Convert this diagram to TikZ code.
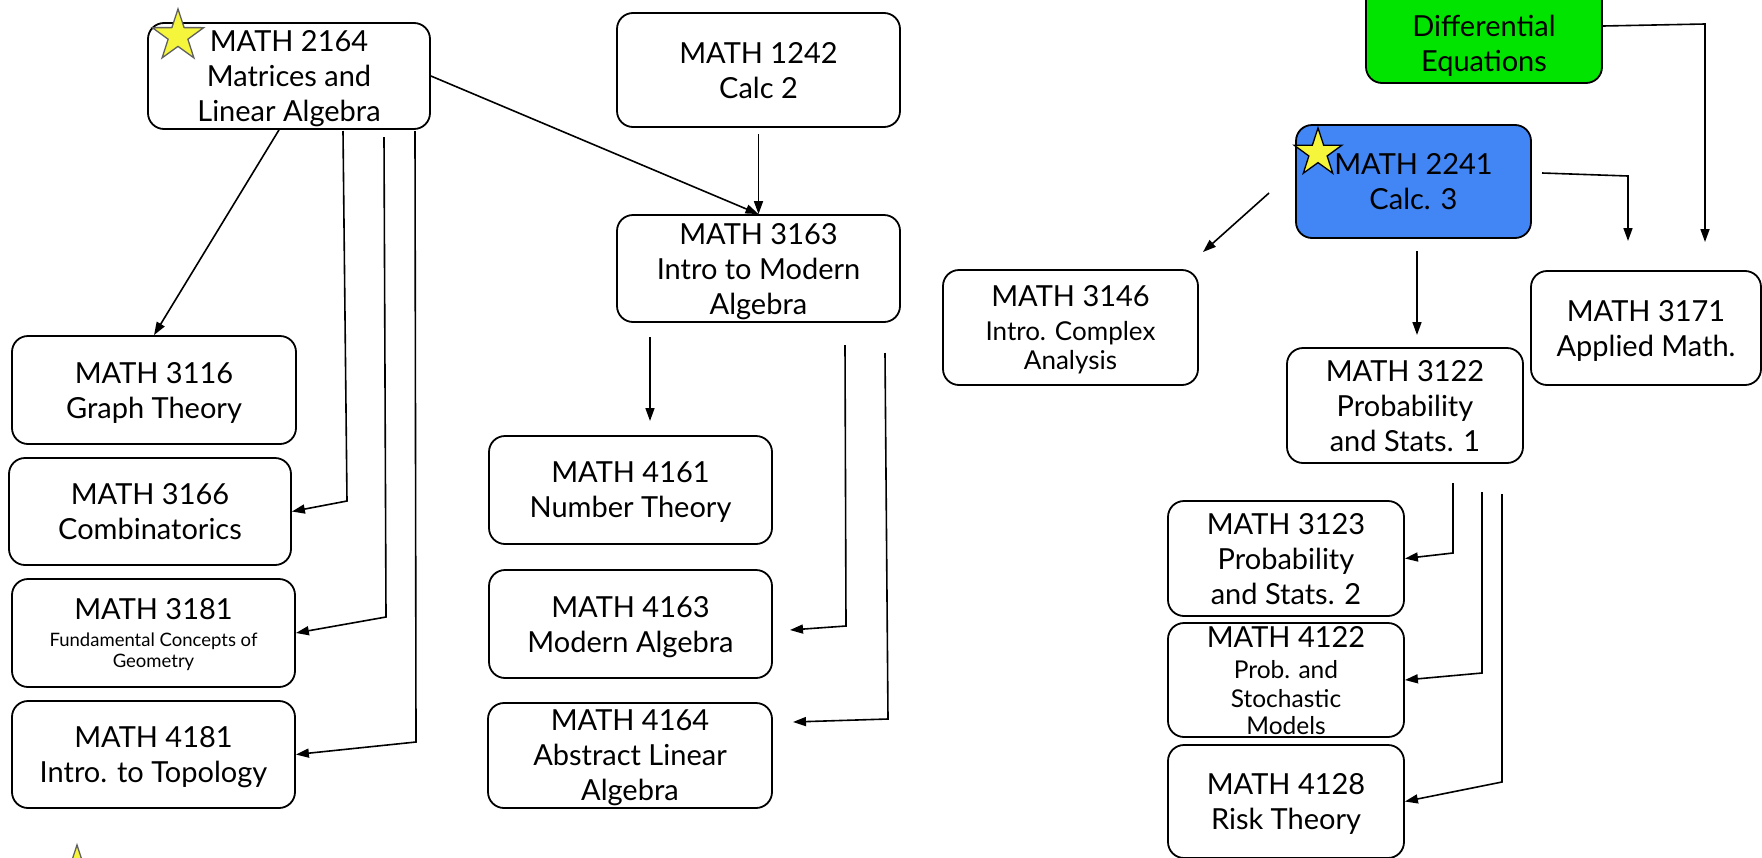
\documentclass[tikz,border=0pt]{standalone}
\usepackage{fontspec}
\setmainfont{Lato}
\usetikzlibrary{shapes.geometric,arrows.meta}
\definecolor{calcblue}{RGB}{66,133,244}
\definecolor{degreen}{RGB}{0,228,0}
\definecolor{staryellow}{RGB}{245,245,60}
\newcommand\cfmain{\fontsize{29}{35}\selectfont}
\newcommand\cfsmallA{\fontsize{26}{29}\selectfont}
\newcommand\cfsmallB{\fontsize{18.5}{21}\selectfont}
\newcommand\cfsmallC{\fontsize{24.5}{28}\selectfont}
\begin{document}
\begin{tikzpicture}[x=1pt,y=-1pt,
  box/.style={draw=black, line width=1.8pt, rounded corners=16pt, align=center, inner sep=0pt, font=\cfmain, text=black, text depth=0pt},
  arr/.style={line width=1.6pt, -{Triangle[length=13pt,width=9pt]}},
  starry/.style={star, star points=5, star point ratio=2.6, inner sep=0pt, fill=staryellow, line width=1.3pt}]
\useasboundingbox (0,0) rectangle (1762,857);
\clip (0,0) rectangle (1762,857);
\fill[white] (0,0) rectangle (1762,857);

% left column
\node[box, minimum width=282pt, minimum height=106pt] (b2164) at (289,76) {MATH 2164\\Matrices and\\Linear Algebra};
\node[box, minimum width=284pt, minimum height=108pt] (b3116) at (154,390) {MATH 3116\\Graph Theory};
\node[box, minimum width=282pt, minimum height=107pt] (b3166) at (150,511.5) {MATH 3166\\Combinatorics};
\node[box, minimum width=283pt, minimum height=108pt] (b3181) at (153.5,633) {MATH 3181\\[-8pt]\cfsmallB Fundamental Concepts of\\[-14pt]\cfsmallB Geometry};
\node[box, minimum width=283pt, minimum height=107pt] (b4181) at (153.5,754.5) {MATH 4181\\Intro. to Topology};

% middle column
\node[box, minimum width=283pt, minimum height=114pt] (b1242) at (758.5,70) {MATH 1242\\Calc 2};
\node[box, minimum width=283pt, minimum height=107pt] (b3163) at (758.5,268.5) {MATH 3163\\Intro to Modern\\Algebra};
\node[box, minimum width=283pt, minimum height=108pt] (b4161) at (630.5,490) {MATH 4161\\Number Theory};
\node[box, minimum width=283pt, minimum height=108pt] (b4163) at (630.5,624) {MATH 4163\\Modern Algebra};
\node[box, minimum width=284pt, minimum height=105pt] (b4164) at (630,755.5) {MATH 4164\\Abstract Linear\\Algebra};

% right part
\node[box, minimum width=255pt, minimum height=115pt] (b3146) at (1070.5,327.5) {MATH 3146\\[-1pt]\cfsmallA Intro. Complex\\[-6pt]\cfsmallA Analysis};
\node[box, fill=degreen, minimum width=236pt, minimum height=114pt] (bde) at (1484,26) {\vphantom{MATH 2164}\\Differential\\Equations};
\node[box, fill=calcblue, minimum width=235pt, minimum height=113pt] (b2241) at (1413.5,181.5) {MATH 2241\\Calc. 3};
\node[box, minimum width=230pt, minimum height=114pt] (b3171) at (1646,328) {MATH 3171\\Applied Math.};
\node[box, minimum width=236pt, minimum height=115pt] (b3122) at (1405,405.5) {MATH 3122\\Probability\\and Stats. 1};
\node[box, minimum width=236pt, minimum height=115pt] (b3123) at (1286,558.5) {MATH 3123\\Probability\\and Stats. 2};
\node[box, minimum width=236pt, minimum height=114pt] (b4122) at (1286,680) {MATH 4122\\[-4pt]\cfsmallC Prob. and\\[-6pt]\cfsmallC Stochastic\\[-8pt]\cfsmallC Models};
\node[box, minimum width=236pt, minimum height=113pt] (b4128) at (1286,801.5) {MATH 4128\\Risk Theory};

% stars
\node[starry, draw=gray!75!black, minimum size=54pt] (s2164) at (178,36) {};
\node[starry, draw=black, minimum size=50pt] (s2241) at (1318,153) {};
\node[starry, draw=gray!75!black, minimum size=50pt] (slegend) at (77,870) {};

% connector points
\coordinate (k2a) at (343,131); \coordinate (k2b) at (347,501);
\coordinate (k3a) at (384,137); \coordinate (k3b) at (386,617);
\coordinate (k4a) at (415,131); \coordinate (k4b) at (416,742);
\coordinate (k7a) at (650,337); \coordinate (k7b) at (650,421);
\coordinate (k8a) at (845,345); \coordinate (k8b) at (846,626); \coordinate (k8c) at (790,630);
\coordinate (k9a) at (885,353); \coordinate (k9b) at (888,719); \coordinate (k9c) at (793,722);
\coordinate (r1a) at (1705,24); \coordinate (r1b) at (1705,242);
\coordinate (r2a) at (1542,173); \coordinate (r2b) at (1628,176); \coordinate (r2c) at (1628,241);
\coordinate (r3a) at (1417,251); \coordinate (r3b) at (1417,335);
\coordinate (r4a) at (1269,193); \coordinate (r4b) at (1203,252);
\coordinate (r5a) at (1453,483); \coordinate (r5b) at (1453,553);
\coordinate (r6a) at (1482,492); \coordinate (r6b) at (1482,673);
\coordinate (r7a) at (1502,494); \coordinate (r7b) at (1502,782);

% connectors
\draw[arr] ([xshift=-10pt]b2164.south) -- (b3116.north);
\draw[arr] (k2a) -- (k2b) -- (b3166.east);
\draw[arr] (k3a) -- (k3b) -- (b3181.east);
\draw[arr] (k4a) -- (k4b) -- (b4181.east);
\draw[arr] (b2164.east) -- (b3163.north);
\draw[arr] ([yshift=-6pt]b1242.south) -- (b3163.north);
\draw[arr] (k7a) -- (k7b);
\draw[arr] (k8a) -- (k8b) -- (k8c);
\draw[arr] (k9a) -- (k9b) -- (k9c);
\draw[arr] (bde.east) -- (r1a) -- (r1b);
\draw[arr] (r2a) -- (r2b) -- (r2c);
\draw[arr] (r3a) -- (r3b);
\draw[arr] (r4a) -- (r4b);
\draw[arr] (r5a) -- (r5b) -- (b3123.east);
\draw[arr] (r6a) -- (r6b) -- (b4122.east);
\draw[arr] (r7a) -- (r7b) -- (b4128.east);
\end{tikzpicture}
\end{document}
